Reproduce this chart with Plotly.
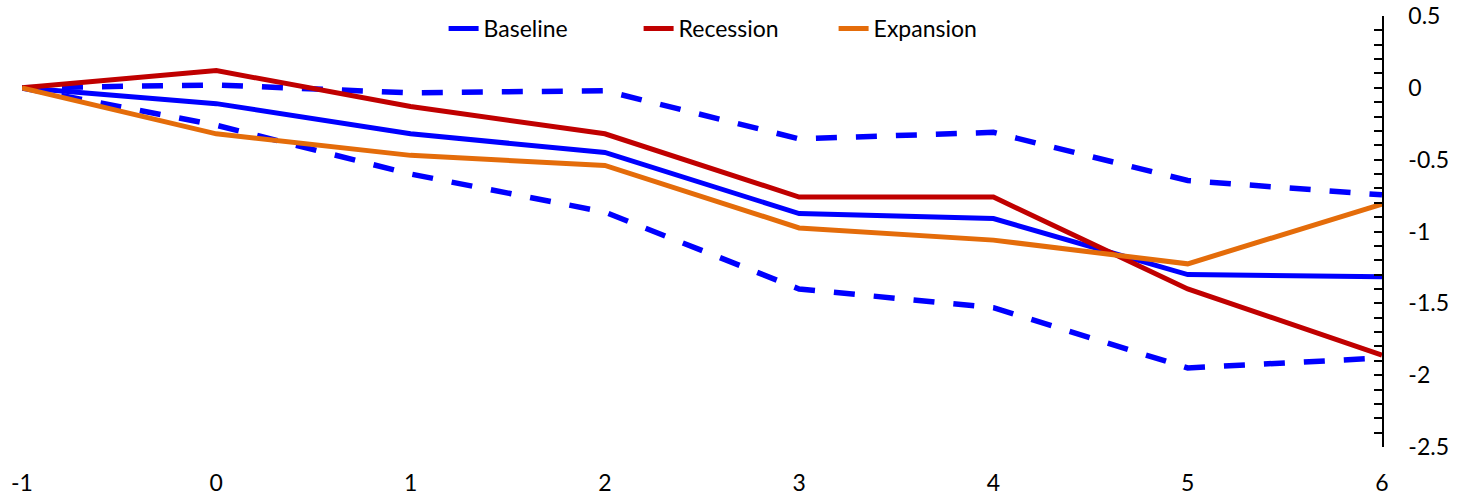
import plotly.graph_objects as go

x_vals = [-1, 0, 1, 2, 3, 4, 5, 6]
baseline = [0, -0.11, -0.32, -0.45, -0.875, -0.91, -1.30, -1.315]
recession = [0, 0.12, -0.13, -0.32, -0.76, -0.76, -1.40, -1.86]
expansion = [0, -0.32, -0.47, -0.54, -0.975, -1.06, -1.225, -0.81]
upper_band = [0, 0.02, -0.035, -0.02, -0.355, -0.31, -0.645, -0.745]
lower_band = [0, -0.26, -0.60, -0.865, -1.40, -1.53, -1.95, -1.88]
y_tick_vals = [0.5, 0, -0.5, -1, -1.5, -2, -2.5]
y_tick_text = ["0.5", "0", "-0.5", "-1", "-1.5", "-2", "-2.5"]

BLUE = "#0000FF"
RED = "#C00000"
ORANGE = "#E46C0A"
FONT = "Lato"
FS = 23

fig = go.Figure()
fig.add_trace(go.Scatter(x=x_vals, y=upper_band, mode="lines", showlegend=False,
                         line=dict(color=BLUE, width=5.5, dash="21px,19px")))
fig.add_trace(go.Scatter(x=x_vals, y=lower_band, mode="lines", showlegend=False,
                         line=dict(color=BLUE, width=5.5, dash="21px,19px")))
fig.add_trace(go.Scatter(x=x_vals, y=baseline, mode="lines", name="Baseline",
                         line=dict(color=BLUE, width=5)))
fig.add_trace(go.Scatter(x=x_vals, y=recession, mode="lines", name="Recession",
                         line=dict(color=RED, width=5)))
fig.add_trace(go.Scatter(x=x_vals, y=expansion, mode="lines", name="Expansion",
                         line=dict(color=ORANGE, width=5)))

ymin, ymax = -2.5, 0.5
zero_pos = (0 - ymin) / (ymax - ymin)

fig.update_layout(
    width=1458, height=495,
    margin=dict(l=22, r=76, t=16, b=48, autoexpand=False),
    paper_bgcolor="white", plot_bgcolor="white",
    font=dict(family=FONT, size=FS, color="black"),
    legend=dict(orientation="h", x=0.31, xanchor="left", y=1.021, yanchor="top",
                bgcolor="rgba(0,0,0,0)", font=dict(size=FS, family=FONT),
                itemwidth=30, entrywidth=150, tracegroupgap=0),
    xaxis=dict(range=[-1, 6], tickvals=x_vals, ticktext=[str(v) for v in x_vals],
               showline=False, showgrid=False, zeroline=False, ticks="",
               automargin=False,
               ticklabelstandoff=20, tickfont=dict(size=FS, family=FONT)),
    xaxis2=dict(range=[-1, 6], overlaying="x", side="top", anchor="free",
                position=zero_pos, showline=True, linecolor="black", linewidth=1.5,
                tickvals=x_vals, ticks="outside", ticklen=8, tickwidth=1.5,
                tickcolor="black", showticklabels=False, showgrid=False,
                zeroline=False, automargin=False),
    yaxis=dict(range=[ymin, ymax], side="right", tickvals=y_tick_vals,
               ticktext=y_tick_text, ticks="inside", ticklen=8, tickwidth=1.5,
               tickcolor="black", showline=True, linecolor="black", linewidth=1.5,
               showgrid=False, zeroline=False, ticklabelstandoff=20,
               automargin=False,
               tickfont=dict(size=FS, family=FONT),
               minor=dict(dtick=0.1, ticks="inside", ticklen=8, tickwidth=1.5,
                          tickcolor="black", showgrid=False)),
)

fig.write_html("out.html")
